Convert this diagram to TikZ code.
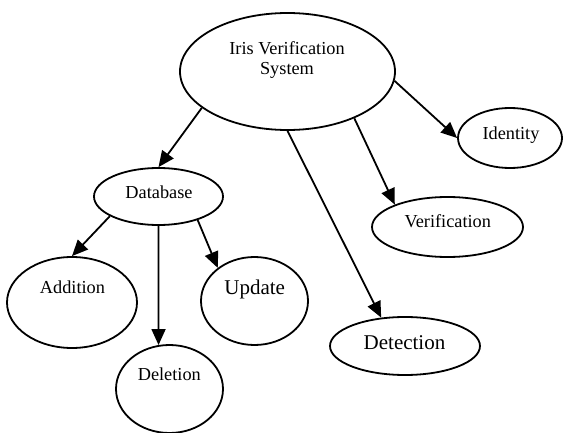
\documentclass[tikz,border=0pt]{standalone}
\usepackage{fontspec}
\setmainfont{Liberation Serif}
\usetikzlibrary{shapes.geometric,arrows.meta}
\begin{document}
\begin{tikzpicture}[x=1pt,y=-1pt,
  oval/.style={draw=black,line width=1.8pt,ellipse,inner sep=0pt},
  lbl/.style={anchor=base,inner sep=0pt,font=\fontsize{18.3}{20}\selectfont},
  biglbl/.style={anchor=base,inner sep=0pt,font=\fontsize{21}{23}\selectfont},
  conn/.style={line width=1.8pt,-{Triangle[length=16pt,width=14pt]}}]
\useasboundingbox (0,0) rectangle (563,433);
% ellipses
\node[oval,minimum width=215pt,minimum height=117pt] (iris) at (287.5,71.5) {};
\node[oval,minimum width=129pt,minimum height=57pt] (db) at (158.5,196.5) {};
\node[oval,minimum width=130pt,minimum height=91pt] (add) at (72,302.5) {};
\node[oval,minimum width=107pt,minimum height=88pt] (del) at (169.5,389) {};
\node[oval,minimum width=107pt,minimum height=88pt] (upd) at (254.5,301) {};
\node[oval,minimum width=104pt,minimum height=60pt] (idn) at (510,138) {};
\node[oval,minimum width=151pt,minimum height=60pt] (ver) at (447.5,227) {};
\node[oval,minimum width=150pt,minimum height=58pt] (det) at (405,346) {};
% texts
\node[lbl] (tiris1) at (287,54.3) {Iris Verification};
\node[lbl] (tiris2) at (287,74.3) {System};
\node[lbl] (tdb) at (159,198.3) {Database};
\node[lbl] (tadd) at (72.5,293.3) {Addition};
\node[lbl] (tdel) at (169.3,380.7) {Deletion};
\node[biglbl] (tupd) at (254.7,294.3) {Update};
\node[lbl] (tidn) at (511,139.3) {Identity};
\node[lbl] (tver) at (447.8,227.3) {Verification};
\node[biglbl] (tdet) at (404.5,349.3) {Detection};
% connectors
\draw[conn] (iris.203.1) -- (db.90);
\draw[conn] (iris.355.5) -- (idn.180);
\draw[conn] (iris.325.4) -- (ver.157.3);
\draw[conn] (iris.270) -- (det.130);
\draw[conn] (db.202.9) -- (add.90);
\draw[conn] (db.270) -- (del.104.3);
\draw[conn] (db.329.9) -- (upd.138.7);
\end{tikzpicture}
\end{document}
